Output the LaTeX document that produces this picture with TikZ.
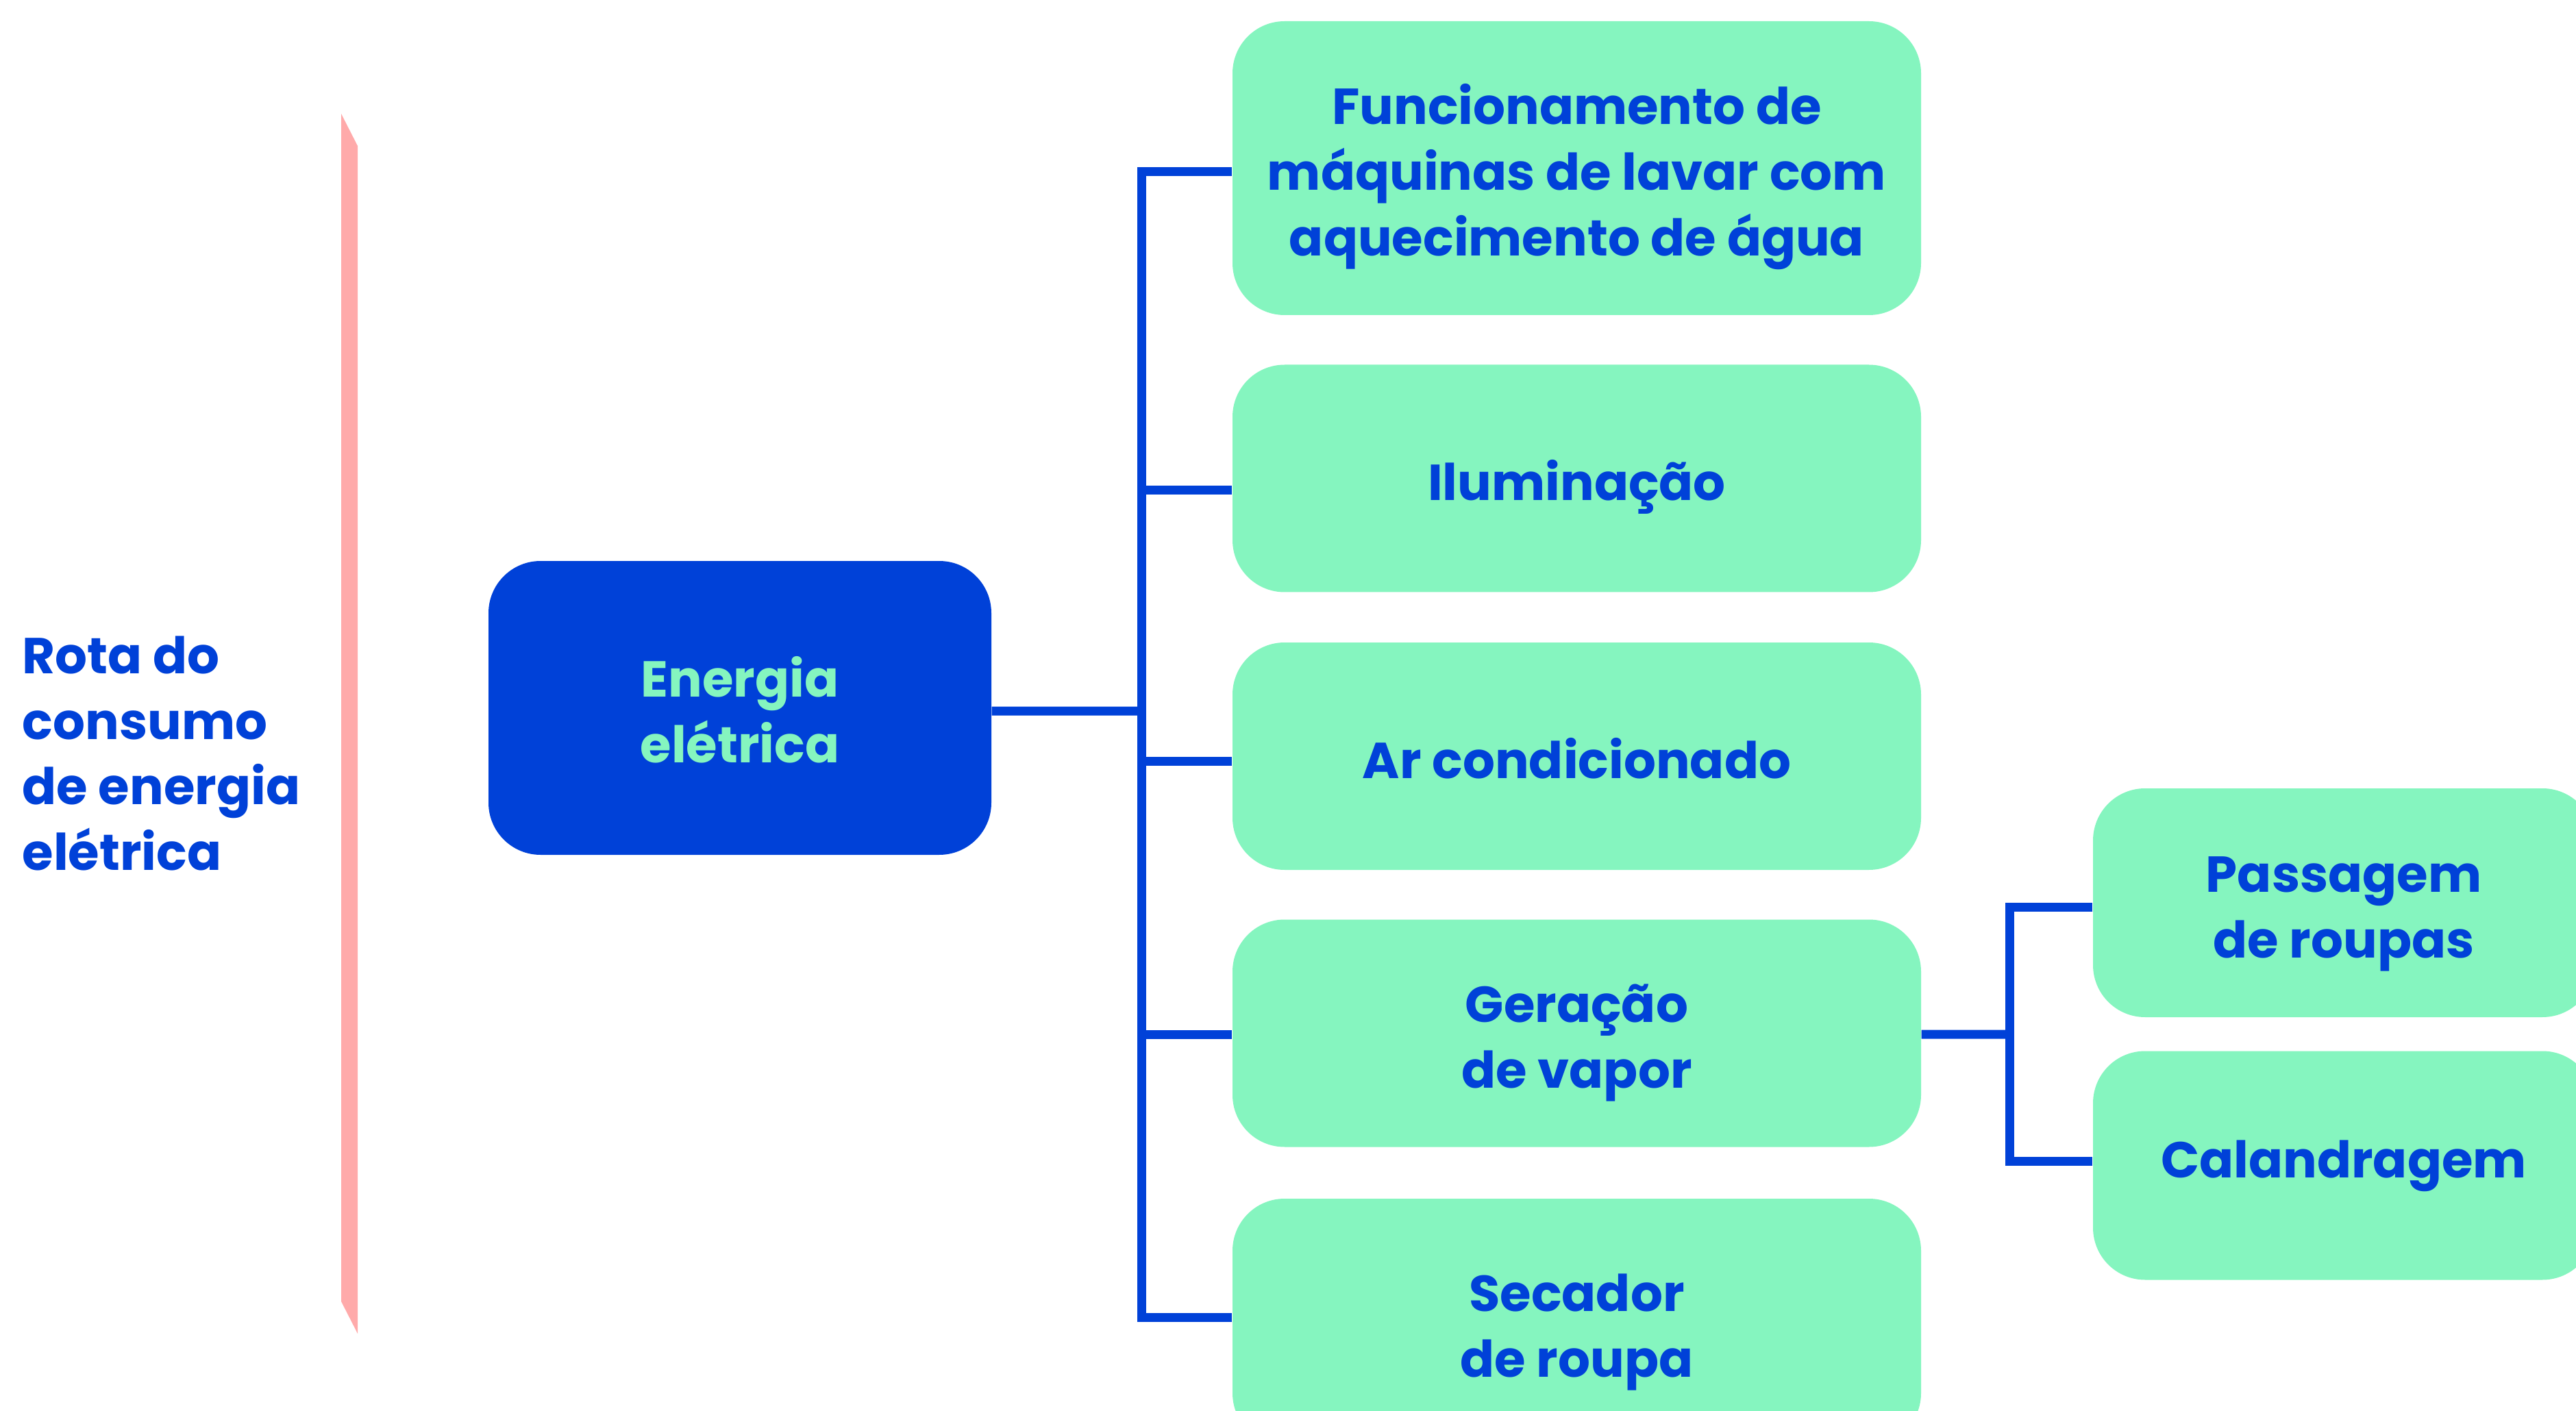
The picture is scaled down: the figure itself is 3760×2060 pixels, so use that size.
\documentclass[tikz,border=0pt]{standalone}
\usepackage{fontspec}
\setmainfont{Poppins}

\definecolor{azul}{HTML}{0041D8}
\definecolor{verde}{HTML}{85F5BF}
\definecolor{rosa}{HTML}{FFAAAA}

\newcommand\letra{\fontsize{21pt}{27.3pt}\selectfont\bfseries}
% struts so that the lines sit like in the printed boxes
\newcommand\topo[1][1.22em]{\rule{0pt}{#1}}
\newcommand\fundo{\rule[-0.35em]{0pt}{0.35em}}

\tikzset{
  caixa/.style={fill=verde, text=azul, rounded corners=7.6mm, inner sep=0pt,
    minimum width=100.5mm, minimum height=33.2mm, align=center, font=\letra},
  central/.style={caixa, fill=azul, text=verde, minimum width=73.4mm, minimum height=42.9mm},
  lateral/.style={caixa, minimum width=73.2mm, minimum height=33.4mm},
  titulo/.style={text=azul, inner sep=0pt, align=left, font=\letra},
  ligacao/.style={draw=azul, line width=1.3mm},
}

\begin{document}
\begin{tikzpicture}[x=0.1mm,y=-0.1mm]

\useasboundingbox (0,0) rectangle (3760,2060);
\clip (0,0) rectangle (3760,2060);

% pink bar on the left
\fill[rosa] (498,166) -- (522,213) -- (522,1947) -- (498,1900) -- cycle;

\node[titulo, anchor=west] (rota) at (32,1100) {Rota do\\consumo\\de energia\\elétrica};

% central box
\node[central] (energia) at (1080,1033.5) {\topo Energia\\elétrica\fundo};

% first level
\node[caixa, minimum height=42.9mm] (funcionamento) at (2301.5,245.5) {\topo Funcionamento de\\máquinas de lavar com\\aquecimento de água\fundo};
\node[caixa] (iluminacao) at (2301.5,698.5) {\topo Iluminação\fundo};
\node[caixa] (ar) at (2301.5,1104) {\topo Ar condicionado\fundo};
\node[caixa] (geracao) at (2301.5,1508.5) {\topo Geração\\de vapor\fundo};
\node[caixa, minimum height=36mm] (secador) at (2301.5,1930) {\topo Secador\\de roupa\fundo};

% second level
\node[lateral] (passagem) at (3421,1318) {\topo Passagem\\de roupas\fundo};
\node[lateral] (calandragem) at (3421,1701.5) {\topo[0.84em]Calandragem\fundo};

% connectors
\coordinate (tronco) at (1666,1038);
\draw[ligacao] ([yshift=-0.45mm]energia.east) -- (tronco);
\foreach \n/\s in {funcionamento/-0.55,iluminacao/-1.75,ar/-0.7,geracao/-0.15,secador/0.7}
  \draw[ligacao] ([yshift=\s mm]\n.west) coordinate (e-\n) -- (e-\n -| tronco) coordinate (t-\n);
\draw[ligacao, line cap=rect] (t-funcionamento) -- (t-secador);

\coordinate (ramo) at (2933,1510);
\draw[ligacao] ([yshift=-0.15mm]geracao.east) -- (ramo);
\foreach \n/\s in {passagem/-0.6,calandragem/0.65}
  \draw[ligacao] ([yshift=\s mm]\n.west) coordinate (e-\n) -- (e-\n -| ramo) coordinate (t-\n);
\draw[ligacao, line cap=rect] (t-passagem) -- (t-calandragem);

\end{tikzpicture}
\end{document}
